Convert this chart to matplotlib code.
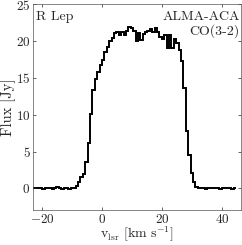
import numpy as np
import matplotlib
matplotlib.use('Agg')
import matplotlib.pyplot as plt

plt.rcParams['font.family'] = 'cmr10'
plt.rcParams['mathtext.fontset'] = 'cm'
plt.rcParams['axes.formatter.use_mathtext'] = True

# spectrum: channel grid and flux per channel [Jy]
v_start = -23.3     # left edge of first channel [km/s]
dv = 0.8            # channel width [km/s]
flux = [
    0.05, 0.0, 0.05, 0.0, -0.05, 0.0, 0.05, 0.0, -0.05, 0.05,
    0.2, 0.0, -0.05, 0.0, 0.0, -0.05, 0.0, 0.05,
    0.3, 0.8, 1.5, 2.0, 3.6, 6.2, 10.1, 13.4, 14.8, 15.8,
    16.8, 17.4, 18.5, 19.2, 20.0, 20.4, 21.1, 21.2, 20.8, 21.2,
    20.9, 21.4, 21.9, 21.8, 21.4, 20.0, 21.1, 20.2, 21.0, 21.3,
    21.4, 21.6, 21.3, 21.8, 21.2, 20.6, 20.3, 20.9, 19.1, 20.8,
    19.1, 20.3, 19.8, 18.8, 17.3, 13.7, 7.8, 4.6, 2.1, 0.9,
    0.2, 0.0, 0.05, 0.0, -0.05, 0.05, 0.0, 0.05, 0.1, 0.0,
    -0.05, 0.0, 0.05, 0.0, 0.05, -0.05, 0.0,
]
edges = v_start + dv * np.arange(len(flux) + 1)

xticks = [-20, 0, 20, 40]
yticks = [0, 5, 10, 15, 20, 25]

fig = plt.figure(figsize=(2.42, 2.45), dpi=100)
ax = fig.add_axes([0.137, 0.141, 0.857, 0.841])

ax.stairs(flux, edges, color='k', linewidth=1.4, baseline=None)

ax.set_xlim(-23.1, 46.2)
ax.set_ylim(-3, 25)
ax.set_xticks(xticks)
ax.set_yticks(yticks)
ax.tick_params(direction='in', top=True, right=True, length=2.5, width=0.5,
               labelsize=9.5, colors='#262626', pad=2)
ax.tick_params(axis='x', pad=1.5)
for s in ax.spines.values():
    s.set_linewidth(0.5)
    s.set_color('#555555')

ax.set_xlabel(r'$\mathrm{v_{lsr}\ [km\ s^{-1}]}$', fontsize=10, color='#262626', labelpad=-0.5)
ax.set_ylabel('Flux [Jy]', fontsize=10.5, color='#262626', labelpad=0)

ax.text(0.015, 0.968, 'R Lep', transform=ax.transAxes, ha='left', va='top',
        fontsize=10, color='#262626')
ax.text(0.997, 0.968, 'ALMA-ACA', transform=ax.transAxes, ha='right', va='top',
        fontsize=10, color='#262626')
ax.text(0.997, 0.905, 'CO(3-2)', transform=ax.transAxes, ha='right', va='top',
        fontsize=10, color='#262626')

fig.savefig('out.png', dpi=100)
